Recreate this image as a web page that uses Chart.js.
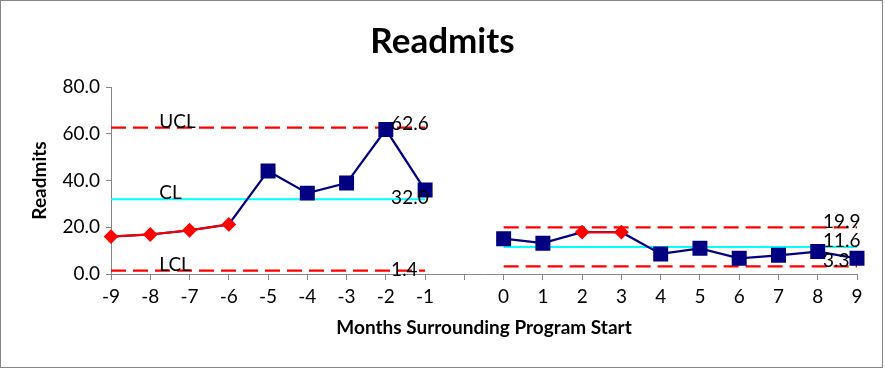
<!DOCTYPE html>
<html>
<head>
<meta charset="utf-8">
<script src="https://cdn.jsdelivr.net/npm/chart.js@4.4.1/dist/chart.umd.min.js"></script>
<style>
  html, body { margin: 0; padding: 0; background: #fff; }
  #wrap { width: 885px; height: 369px; }
</style>
</head>
<body>
<div id="wrap"><canvas id="readmitsChart"></canvas></div>
<script>
// months around program start, blank slot separates the two phases
const months = ['-9', '-8', '-7', '-6', '-5', '-4', '-3', '-2', '-1', '',
  '0', '1', '2', '3', '4', '5', '6', '7', '8', '9'];
const readmits = [16.0, 16.9, 18.7, 21.2, 44.1, 34.6, 38.9, 61.8, 35.9, null,
  15.1, 13.2, 17.9, 17.9, 8.6, 11.0, 6.7, 8.0, 9.6, 6.7];
// points flagged by the run rules (drawn red)
const flagged = [true, true, true, true, false, false, false, false, false, false,
  false, false, true, true, false, false, false, false, false, false];
// phase of each slot (0 = before, 1 = after, -1 = gap)
const phase = [0, 0, 0, 0, 0, 0, 0, 0, 0, -1, 1, 1, 1, 1, 1, 1, 1, 1, 1, 1];
const uclValues = [62.6, 19.9];
const clValues = [32.0, 11.6];
const lclValues = [1.4, 3.3];
const yTicks = [0, 20, 40, 60, 80];

const FONT = 'Lato, "Open Sans", sans-serif';

function limitLine(vals) {
  return phase.map(p => (p < 0 ? null : vals[p]));
}

const redPoints = readmits.map((v, i) => (flagged[i] ? v : null));

// text labels next to the control lines
const limitLabels = {
  id: 'limitLabels',
  afterDatasetsDraw(chart) {
    const ctx = chart.ctx;
    const x = chart.scales.x;
    const y = chart.scales.y;
    ctx.save();
    ctx.fillStyle = '#000';
    ctx.font = '19px ' + FONT;
    ctx.textBaseline = 'alphabetic';
    ctx.textAlign = 'left';
    const nameX = x.getPixelForValue(1) + 9;
    ctx.fillText('UCL', nameX, y.getPixelForValue(uclValues[0]));
    ctx.fillText('CL', nameX, y.getPixelForValue(clValues[0]));
    ctx.fillText('LCL', nameX, y.getPixelForValue(lclValues[0]));

    const v1 = x.getPixelForValue(8) - 34;
    ctx.fillText(uclValues[0].toFixed(1), v1, y.getPixelForValue(uclValues[0]) + 2);
    ctx.fillText(clValues[0].toFixed(1), v1, y.getPixelForValue(clValues[0]) + 5);
    ctx.fillText(lclValues[0].toFixed(1), v1, y.getPixelForValue(lclValues[0]) + 5);

    const v2 = x.getPixelForValue(19) - 34;
    ctx.fillText(uclValues[1].toFixed(1), v2, y.getPixelForValue(uclValues[1]) + 1);
    ctx.fillText(clValues[1].toFixed(1), v2, y.getPixelForValue(clValues[1]));
    ctx.fillText(lclValues[1].toFixed(1), v2, y.getPixelForValue(lclValues[1]) + 1);
    ctx.restore();
  }
};

// thin grey frame round the whole chart
const frame = {
  id: 'frame',
  afterDraw(chart) {
    const ctx = chart.ctx;
    ctx.save();
    ctx.strokeStyle = '#868686';
    ctx.lineWidth = 1;
    ctx.strokeRect(0.5, 0.5, chart.width - 3, chart.height - 2);
    ctx.restore();
  }
};

const dashed = {
  type: 'line',
  borderColor: '#ff0000',
  borderWidth: 2.25,
  borderDash: [15, 7],
  pointRadius: 0,
  spanGaps: false,
  order: 5
};

new Chart(document.getElementById('readmitsChart'), {
  type: 'line',
  data: {
    labels: months,
    datasets: [
      {
        label: 'Signal',
        data: redPoints,
        borderColor: '#ff0000',
        backgroundColor: '#ff0000',
        borderWidth: 2,
        pointStyle: 'rectRot',
        pointRadius: 6,
        spanGaps: false,
        order: 1
      },
      {
        label: 'Readmits',
        data: readmits,
        borderColor: '#000080',
        backgroundColor: '#000080',
        borderWidth: 2.25,
        pointStyle: 'rect',
        pointRadius: readmits.map((v, i) => (flagged[i] ? 0 : 9)),
        spanGaps: false,
        order: 2
      },
      Object.assign({ label: 'UCL', data: limitLine(uclValues) }, dashed),
      {
        label: 'CL',
        data: limitLine(clValues),
        borderColor: '#00ffff',
        borderWidth: 2,
        pointRadius: 0,
        spanGaps: false,
        order: 6
      },
      Object.assign({ label: 'LCL', data: limitLine(lclValues) }, dashed)
    ]
  },
  options: {
    responsive: true,
    maintainAspectRatio: false,
    animation: false,
    layout: { padding: { left: 28, right: 28, top: 0, bottom: 30 } },
    plugins: {
      legend: { display: false },
      tooltip: { enabled: false },
      title: {
        display: true,
        text: 'Readmits',
        color: '#000',
        font: { family: FONT, size: 35, weight: 'bold' },
        padding: { top: 21, bottom: 24 }
      }
    },
    scales: {
      x: {
        type: 'category',
        offset: false,
        grid: { drawOnChartArea: false, drawTicks: true, tickLength: 6, color: '#868686' },
        border: { color: '#868686', width: 1 },
        ticks: {
          color: '#000',
          font: { family: FONT, size: 19 },
          maxRotation: 0,
          autoSkip: false,
          padding: 5
        },
        title: {
          display: true,
          text: 'Months Surrounding Program Start',
          color: '#000',
          font: { family: FONT, size: 19, weight: 'bold' },
          padding: { top: 4, bottom: 0 }
        },
        afterFit(scale) { scale.height = 65; }
      },
      y: {
        min: 0,
        max: 80,
        afterBuildTicks(scale) { scale.ticks = yTicks.map(v => ({ value: v })); },
        grid: { drawOnChartArea: false, drawTicks: true, tickLength: 5, color: '#868686' },
        border: { color: '#868686', width: 1 },
        ticks: {
          color: '#000',
          font: { family: FONT, size: 19 },
          padding: 6,
          callback: v => Number(v).toFixed(1)
        },
        title: {
          display: true,
          text: 'Readmits',
          color: '#000',
          font: { family: FONT, size: 19, weight: 'bold' },
          padding: { top: 0, bottom: 0 }
        },
        afterFit(scale) { scale.width = 83; }
      }
    }
  },
  plugins: [limitLabels, frame]
});
</script>
</body>
</html>
